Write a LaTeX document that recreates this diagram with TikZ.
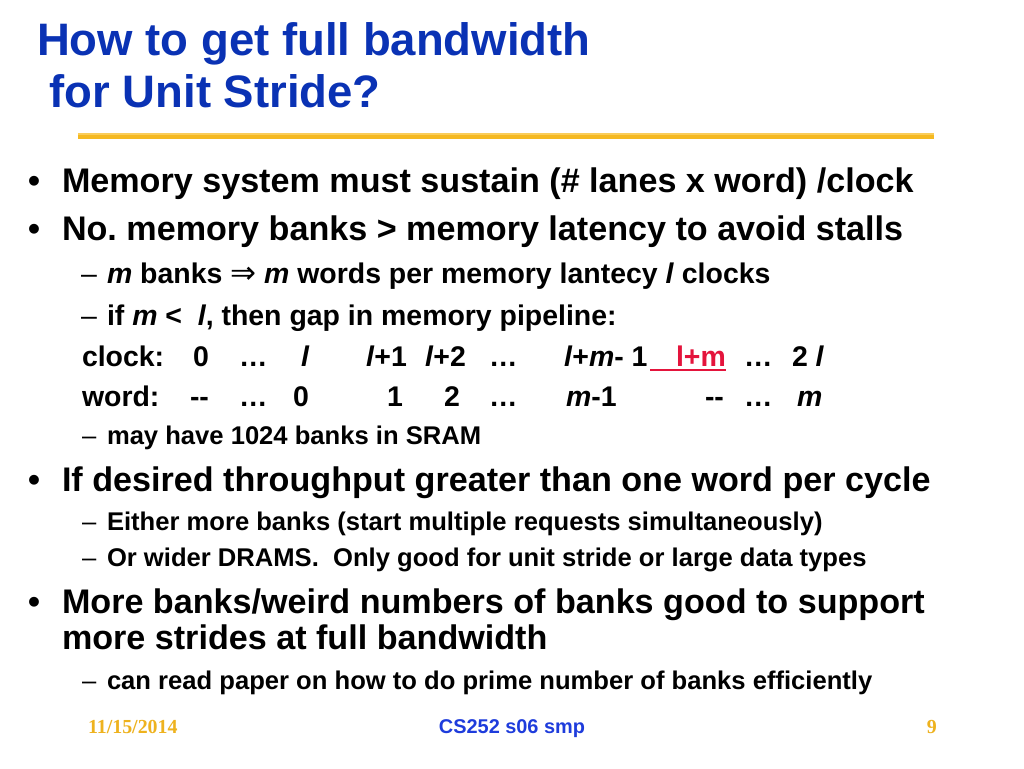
\documentclass[tikz,border=0pt]{standalone}
\usepackage{fontspec}
\setmainfont{Liberation Sans}
\newfontfamily\timesf{Liberation Serif}
\newfontfamily\symf{DejaVu Sans}
\frenchspacing
\definecolor{titleblue}{RGB}{10,50,180}
\definecolor{footblue}{RGB}{30,60,220}
\definecolor{gold}{RGB}{245,185,33}
\definecolor{lightgold}{RGB}{250,205,90}
\definecolor{datecol}{RGB}{238,178,30}
\definecolor{redc}{RGB}{228,20,60}
\tikzset{
  txt/.style={anchor=base west,inner sep=0pt,outer sep=0pt,font=\bfseries},
  ttl/.style={txt,text=titleblue,font=\fontsize{45.5}{50}\selectfont\bfseries},
  lone/.style={txt,font=\fontsize{34.13}{38}\selectfont\bfseries},
  ltwo/.style={txt,font=\fontsize{28.44}{32}\selectfont\bfseries},
  lthree/.style={txt,font=\fontsize{25.6}{29}\selectfont\bfseries},
  dashtwo/.style={txt,font=\fontsize{28.44}{32}\selectfont},
  dashthree/.style={txt,font=\fontsize{25.6}{29}\selectfont},
  cell/.style={txt,font=\fontsize{28.44}{32}\selectfont\bfseries},
}
\begin{document}
\begin{tikzpicture}[x=1pt,y=-1pt]
\useasboundingbox (0,0) rectangle (1024,768);
\fill[white] (0,0) rectangle (1024,768);
% title
\node[ttl] (t1) at (37,56) {How to get full bandwidth};
\node[ttl] (t2) at (37,107) {\ for Unit Stride?};
\draw[lightgold,line width=1.5pt] (78,134) -- (934,134);
\draw[gold,line width=3.5pt] (78,137.2) -- (934,137.2);
% bullets level 1
\node[lone] (b1d) at (28,192) {•};
\node[lone] (b1) at (62,192) {Memory system must sustain (\# lanes x word) /clock};
\node[lone] (b2d) at (28,240) {•};
\node[lone] (b2) at (62,240) {No. memory banks > memory latency to avoid stalls};
% level 2
\node[dashtwo] (s1d) at (81,283) {–};
\node[ltwo] (s1) at (107,283) {\textit{m} banks {\symf\mdseries\fontsize{31}{32}\selectfont ⇒} \textit{m} words per memory lantecy \textit{l} clocks};
\node[dashtwo] (s2d) at (81,325) {–};
\node[ltwo] (s2) at (107,325) {if \textit{m} <\ \ \textit{l}, then gap in memory pipeline:};
% clock row
\node[cell] (c0) at (82,366) {clock:};
\node[cell] (c1) at (193,366) {0};
\node[cell] (c2) at (239,366) {…};
\node[cell] (c3) at (301,366) {\textit{l}};
\node[cell] (c4) at (366,366) {\textit{l}+1};
\node[cell] (c5) at (425,366) {\textit{l}+2};
\node[cell] (c6) at (489,366) {…};
\node[cell] (c7) at (564,366) {\textit{l}+\textit{m}- 1};
\node[cell,text=redc] (c8) at (676,366) {l+m};
\coordinate (u1) at (650,370);
\coordinate (u2) at (726,370);
\draw[redc,line width=2pt] (u1) -- (u2);
\node[cell] (c9) at (744,366) {…};
\node[cell] (c10) at (792,366) {2 \textit{l}};
% word row
\node[cell] (w0) at (82,406) {word:};
\node[cell] (w1) at (190,406) {-{}-};
\node[cell] (w2) at (239,406) {…};
\node[cell] (w3) at (293,406) {0};
\node[cell] (w4) at (387,406) {1};
\node[cell] (w5) at (444,406) {2};
\node[cell] (w6) at (489,406) {…};
\node[cell] (w7) at (566,406) {\textit{m}-1};
\node[cell] (w8) at (705,406) {-{}-};
\node[cell] (w9) at (744,406) {…};
\node[cell] (w10) at (797,406) {\textit{m}};
% level 3-ish
\node[dashthree] (s3d) at (82,444) {–};
\node[lthree] (s3) at (107,444) {may have 1024 banks in SRAM};
% bullet 3
\node[lone] (b3d) at (28,491) {•};
\node[lone] (b3) at (62,491) {If desired throughput greater than one word per cycle};
\node[dashthree] (s4d) at (82,530) {–};
\node[lthree] (s4) at (107,530) {Either more banks (start multiple requests simultaneously)};
\node[dashthree] (s5d) at (82,566) {–};
\node[lthree] (s5) at (107,566) {Or wider DRAMS.\ \ Only good for unit stride or large data types};
% bullet 4
\node[lone] (b4d) at (28,613) {•};
\node[lone] (b4) at (62,613) {More banks/weird numbers of banks good to support};
\node[lone] (b4b) at (62,649) {more strides at full bandwidth};
\node[dashthree] (s6d) at (82,689) {–};
\node[lthree] (s6) at (107,689) {can read paper on how to do prime number of banks efficiently};
% footer
\node[txt,text=datecol,font=\fontsize{19.9}{22}\selectfont\timesf\bfseries] (date) at (88,733) {11/15/2014};
\node[inner sep=0pt,anchor=base,text=footblue,font=\fontsize{19.9}{22}\selectfont\bfseries] (course) at (512,733) {CS252 s06 smp};
\node[inner sep=0pt,anchor=base east,text=datecol,font=\fontsize{19.9}{22}\selectfont\timesf\bfseries] (pg) at (937,733) {9};
\end{tikzpicture}
\end{document}
